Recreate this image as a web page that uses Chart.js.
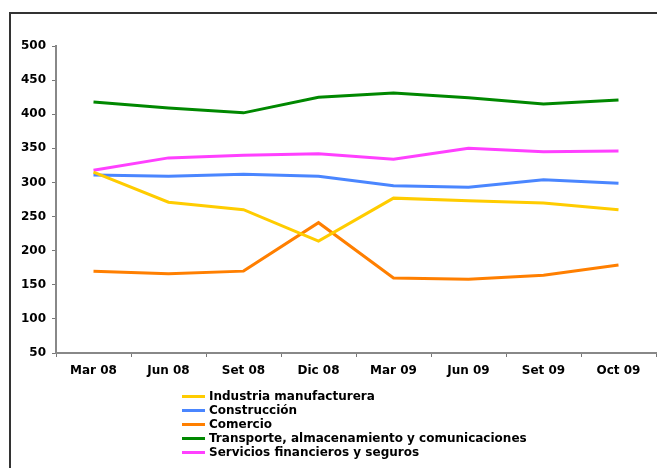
<!DOCTYPE html>
<html>
<head>
<meta charset="utf-8">
<script src="https://cdn.jsdelivr.net/npm/chart.js@4/dist/chart.umd.min.js"></script>
<style>
  html, body { margin: 0; padding: 0; background: #fff; }
  #wrap { position: relative; width: 657px; height: 468px; overflow: hidden; }
  #frame { position: absolute; left: 9px; top: 12px; width: 700px; height: 500px; border: 2px solid #333; box-sizing: border-box; }
  #chartCanvas { position: absolute; left: 0; top: 0; }
  #legend { position: absolute; left: 182px; top: 389px; font: bold 12px "DejaVu Sans", Verdana, sans-serif; color: #000; }
  #legend div { height: 14px; line-height: 14px; display: flex; align-items: center; }
  #legend span.swatch { display: inline-block; width: 23px; height: 3px; margin-right: 4px; }
</style>
</head>
<body>
<div id="wrap">
  <div id="frame"></div>
  <canvas id="chartCanvas" width="657" height="468"></canvas>
  <div id="legend"></div>
</div>
<script>
// quarters on the x axis
const periods = ['Mar 08', 'Jun 08', 'Set 08', 'Dic 08', 'Mar 09', 'Jun 09', 'Set 09', 'Oct 09'];

// one array per sector
const industria = [315, 271, 260, 214, 277, 273, 270, 260];
const construccion = [311, 309, 312, 309, 295, 293, 304, 299];
const comercio = [170, 166, 170, 241, 160, 158, 164, 179];
const transporte = [418, 409, 402, 425, 431, 424, 415, 421];
const servicios = [318, 336, 340, 342, 334, 350, 345, 346];

const yTicks = [50, 100, 150, 200, 250, 300, 350, 400, 450, 500];

const series = [
    { label: 'Industria manufacturera', data: industria, color: '#FFCC00' },
    { label: 'Construcción', data: construccion, color: '#4A86FF' },
    { label: 'Comercio', data: comercio, color: '#FF7F00' },
    { label: 'Transporte, almacenamiento y comunicaciones', data: transporte, color: '#008800' },
    { label: 'Servicios financieros y seguros', data: servicios, color: '#FF40FF' }
];

const font = { family: '"DejaVu Sans", Verdana, sans-serif', size: 12, weight: 'bold' };

const ctx = document.getElementById('chartCanvas').getContext('2d');

const myChart = new Chart(ctx, {
    type: 'line',
    data: {
        labels: periods,
        datasets: series.map(s => ({
            label: s.label,
            data: s.data,
            borderColor: s.color,
            backgroundColor: s.color,
            borderWidth: 3,
            pointRadius: 0,
            tension: 0,
            fill: false
        }))
    },
    options: {
        responsive: false,
        animation: false,
        layout: { padding: { top: 46, right: 1, left: 0, bottom: 0 } },
        plugins: {
            legend: { display: false },
            tooltip: { enabled: false }
        },
        scales: {
            x: {
                offset: true,
                grid: { offset: true, drawOnChartArea: false, tickLength: 4, color: '#777', lineWidth: 1 },
                border: { display: true, color: '#888', width: 2 },
                ticks: { color: '#000', font: font, padding: 7, maxRotation: 0 },
                afterFit: scale => { scale.height = 115; }
            },
            y: {
                min: 50,
                max: 500,
                afterBuildTicks: scale => { scale.ticks = yTicks.map(v => ({ value: v })); },
                grid: { drawOnChartArea: false, tickLength: 4, color: '#777', lineWidth: 1 },
                border: { display: true, color: '#888', width: 2 },
                ticks: { color: '#000', font: font, padding: 6 },
                afterFit: scale => { scale.width = 56; }
            }
        }
    }
});

// legend rows, one per dataset, stacked on the left
const legendBox = document.getElementById('legend');
series.forEach(s => {
    const row = document.createElement('div');
    const sw = document.createElement('span');
    sw.className = 'swatch';
    sw.style.background = s.color;
    row.appendChild(sw);
    row.appendChild(document.createTextNode(s.label));
    legendBox.appendChild(row);
});
</script>
</body>
</html>
